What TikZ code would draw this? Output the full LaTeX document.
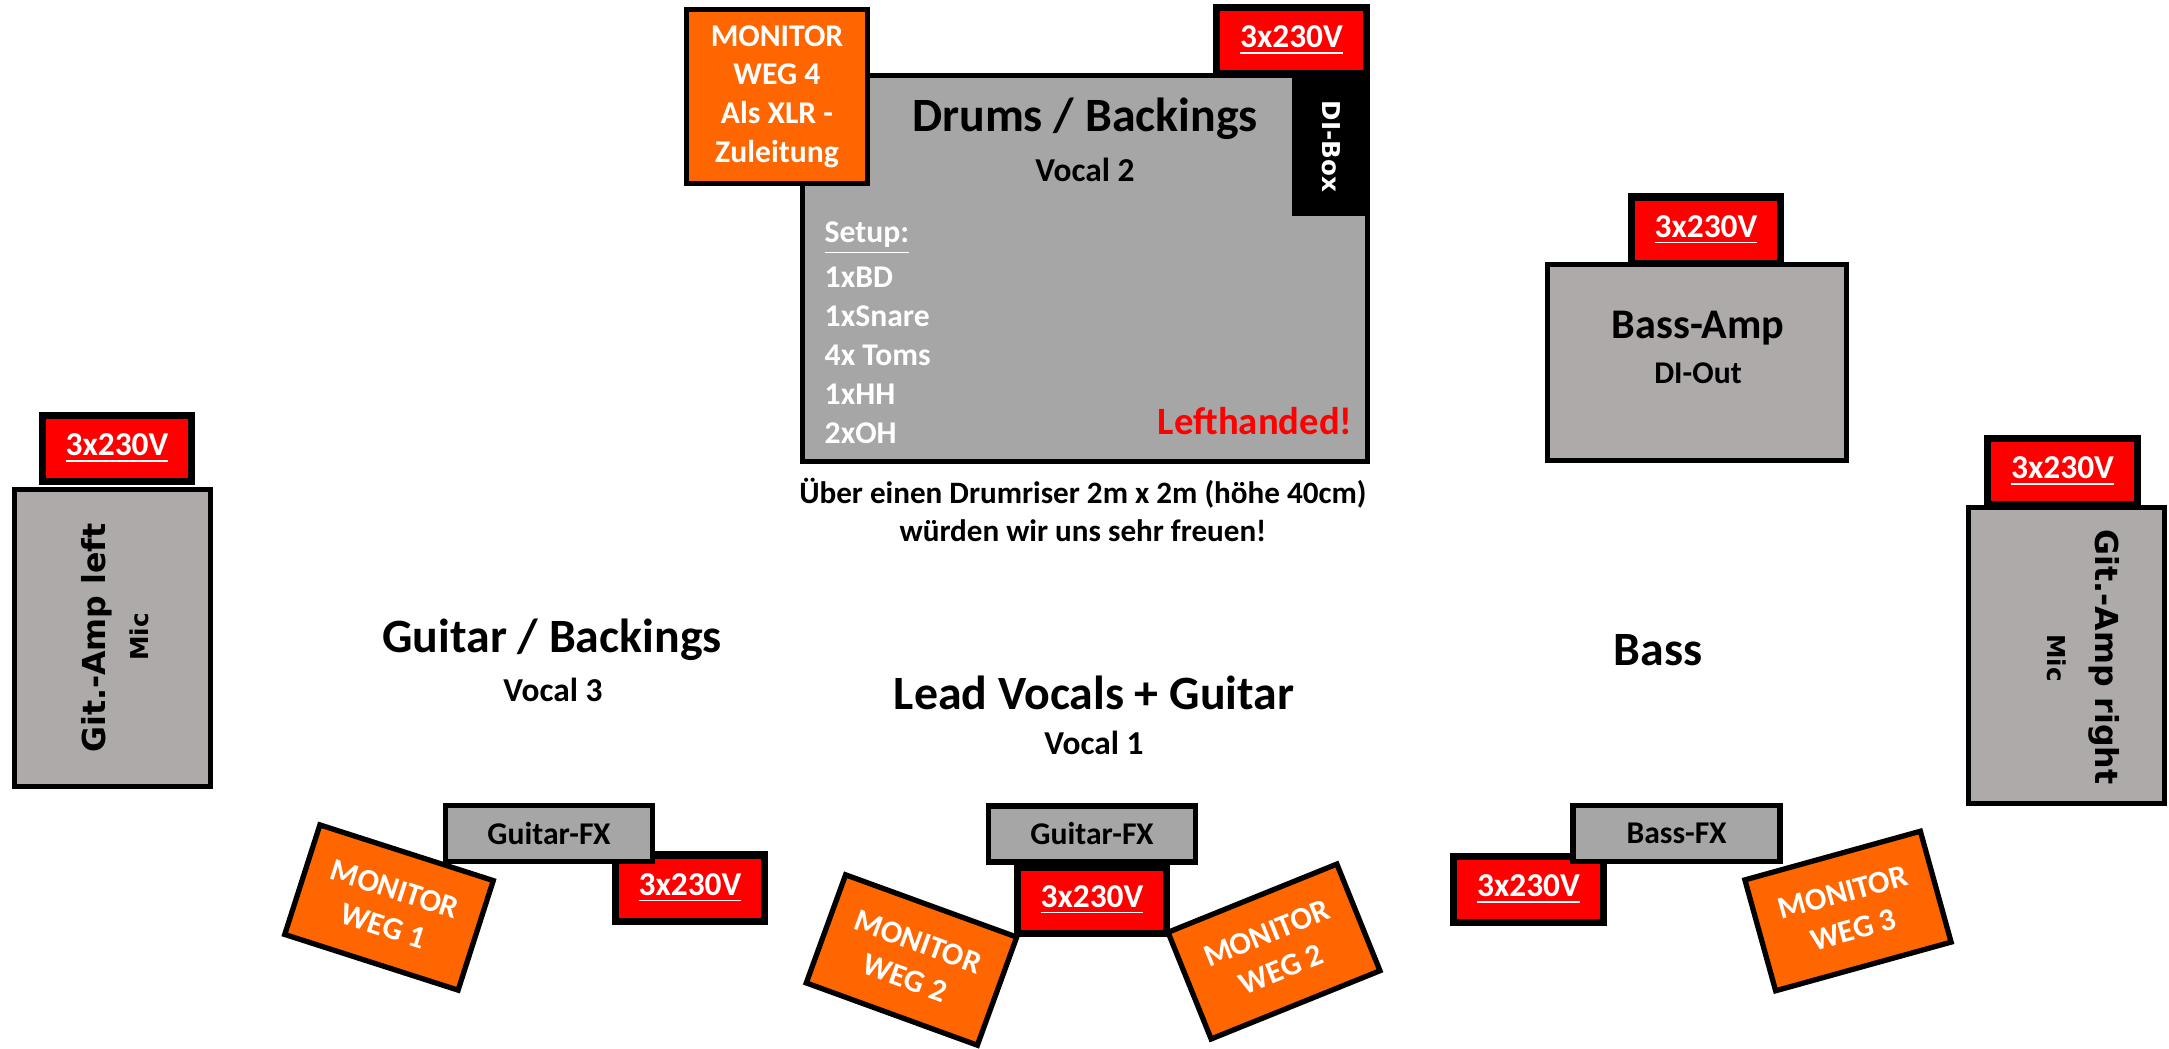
\documentclass[tikz,border=0pt]{standalone}
\usepackage{fontspec}
\setmainfont{Carlito}
\newfontfamily\verd{DejaVu Sans}
\definecolor{stageorange}{HTML}{FF6600}
\definecolor{ampgray}{HTML}{AEAAAA}
\definecolor{fxgray}{HTML}{A6A6A6}
\begin{document}
\begin{tikzpicture}[x=0.01cm, y=-0.01cm,
    box/.style={draw=black, line width=1.5pt, inner sep=0pt, font=\bfseries},
    amp/.style={box, fill=ampgray},
    fx/.style={box, fill=fxgray, minimum width=20.7mm, minimum height=5.6mm, font=\bfseries\fontsize{9}{11}\selectfont},
    pwr/.style={box, line width=2pt, fill=red, text=white, minimum width=14.9mm, minimum height=6.6mm, font=\bfseries\fontsize{9.5}{11}\selectfont},
    mon/.style={box, fill=stageorange, text=white, align=center, minimum width=18.2mm, minimum height=11.5mm, font=\bfseries\fontsize{9}{11}\selectfont},
    lbl/.style={inner sep=0pt, font=\bfseries\fontsize{13.6}{16}\selectfont},
    sub/.style={inner sep=0pt, font=\bfseries\fontsize{9.5}{11}\selectfont},
    amptxt/.style={inner sep=0pt, font=\verd\bfseries\fontsize{9}{11}\selectfont}
  ]
  \useasboundingbox (0,0) rectangle (2169,1048);

  % drum riser
  \node[box, fill=fxgray, minimum width=56.5mm, minimum height=38.6mm] (drums) at (1085,268.5) {};
  \node[mon, minimum width=18.1mm, minimum height=17.4mm] (monW4) at (777,96.5) {MONITOR\\WEG 4\\Als XLR -\\Zuleitung};
  \node[pwr] (pwrD) at (1291.5,40.5) {\underline{3x230V}};
  \node[box, fill=black, text=white, rotate=-90, minimum width=13.4mm, minimum height=7.3mm,
    font=\verd\bfseries\fontsize{7}{9}\selectfont] (di) at (1331,146.5) {DI-Box};
  \node[lbl] (drumsT) at (1085,119) {Drums / Backings};
  \node[sub] (drumsV) at (1085,170) {Vocal 2};
  \node[sub, anchor=west, text=white, font=\bfseries\fontsize{9}{11}\selectfont] (setup) at (824,238) {\underline{Setup:}};
  \foreach \t [count=\i] in {1xBD,1xSnare,4x Toms,1xHH,2xOH} {
    \node[sub, anchor=west, text=white, font=\bfseries\fontsize{9}{11}\selectfont] (s\i) at (824,238+39*\i) {\t};
  }
  \node[sub, anchor=east, text=red, font=\bfseries\fontsize{11}{13}\selectfont] (lefty) at (1353,421) {Lefthanded!};
  \node[sub, align=center, font=\bfseries\fontsize{8.85}{10.9}\selectfont] (riser) at (1083,510)
    {Über einen Drumriser 2m x 2m (höhe 40cm)\\würden wir uns sehr freuen!};

  % bass amp
  \node[amp, minimum width=29.9mm, minimum height=19.6mm] (bassamp) at (1697,362.5) {};
  \node[pwr] (pwrB) at (1706,230) {\underline{3x230V}};
  \node[lbl, font=\bfseries\fontsize{12}{14}\selectfont] (bassampT) at (1698,328) {Bass-Amp};
  \node[sub, font=\bfseries\fontsize{9}{11}\selectfont] (bassampD) at (1698,373) {DI-Out};

  % guitar amps
  \node[amp, minimum width=19.6mm, minimum height=29.7mm] (gitL) at (112.5,638) {};
  \node[pwr] (pwrGL) at (117,448.5) {\underline{3x230V}};
  \node[amptxt, rotate=90] (gitLT) at (97,638) {Git.-Amp left};
  \node[amptxt, rotate=90, font=\verd\bfseries\fontsize{7}{8}\selectfont] (gitLM) at (139,637) {Mic};
  \node[amp, minimum width=19.6mm, minimum height=29.6mm] (gitR) at (2066.5,655.5) {};
  \node[pwr] (pwrGR) at (2062.5,471.5) {\underline{3x230V}};
  \node[amptxt, rotate=-90] (gitRT) at (2104,657) {Git.-Amp right};
  \node[amptxt, rotate=-90, font=\verd\bfseries\fontsize{7}{8}\selectfont] (gitRM) at (2057,658) {Mic};

  % positions
  \node[lbl] (gtrT) at (552,640) {Guitar / Backings};
  \node[sub] (gtrV) at (553,690) {Vocal 3};
  \node[lbl] (leadT) at (1094,693) {Lead Vocals + Guitar};
  \node[sub] (leadV) at (1094,743) {Vocal 1};
  \node[lbl] (bassT) at (1658,650) {Bass};

  % front line
  \node[pwr] (pwrFL) at (690,888) {\underline{3x230V}};
  \node[fx] (fxL) at (549,833.5) {Guitar-FX};
  \node[mon, rotate=-17.8] (monW1) at (389,907.5) {MONITOR\\WEG 1};
  \node[fx] (fxM) at (1092,834) {Guitar-FX};
  \node[pwr] (pwrFM) at (1092,900) {\underline{3x230V}};
  \node[mon, rotate=-20] (monW2a) at (911.5,960) {MONITOR\\WEG 2};
  \node[mon, rotate=22] (monW2b) at (1274,951.5) {MONITOR\\WEG 2};
  \node[pwr] (pwrFR) at (1528.5,889.5) {\underline{3x230V}};
  \node[fx] (fxR) at (1676.5,833.5) {Bass-FX};
  \node[mon, rotate=15.5] (monW3) at (1848,911) {MONITOR\\WEG 3};
\end{tikzpicture}
\end{document}
